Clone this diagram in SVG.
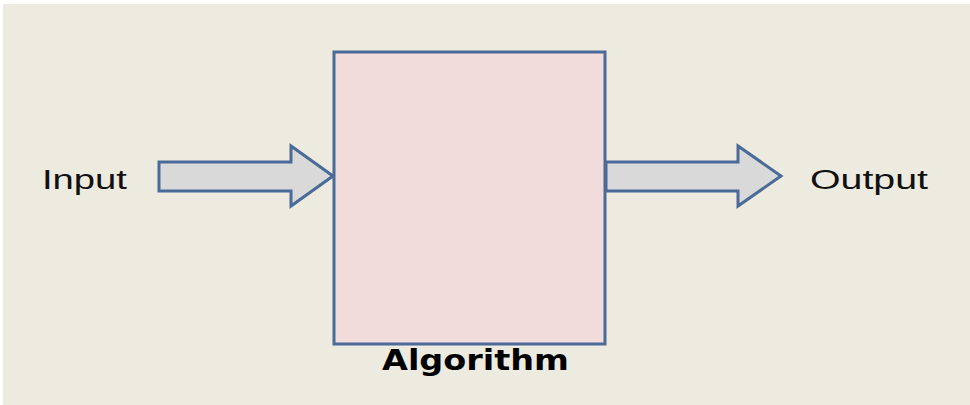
<svg xmlns="http://www.w3.org/2000/svg" width="970" height="405" viewBox="0 0 970 405">
<style>
.arrow{fill:#D9D9D9;stroke:#4A6B98;stroke-width:3;stroke-linejoin:miter}
.lbl{font-family:"Liberation Sans",Arial,sans-serif;font-size:27px;fill:#111}
.title{font-family:"DejaVu Sans","Liberation Sans",sans-serif;font-weight:bold;font-size:28px;fill:#000}
</style>
<rect x="0" y="0" width="970" height="405" fill="#FFFFFF"/>
<rect x="3" y="4" width="967" height="401" fill="#EDEAE0"/>
<g id="connectors">
<polygon class="arrow" points="159,162 291,162 291,146 333,176 291,206 291,191 159,191"/>
<polygon class="arrow" points="606,162 738,162 738,146 781,176 738,206 738,191 606,191"/>
</g>
<g id="algorithm">
<rect x="334" y="52" width="271" height="292" fill="#F2DCDB" stroke="#4A6B98" stroke-width="3"/>
<text class="title" x="382" y="370" textLength="187" lengthAdjust="spacingAndGlyphs">Algorithm</text>
</g>
<g id="input">
<text class="lbl" x="42" y="189" textLength="85" lengthAdjust="spacingAndGlyphs">Input</text>
</g>
<g id="output">
<text class="lbl" x="810" y="189" textLength="118" lengthAdjust="spacingAndGlyphs">Output</text>
</g>
</svg>
